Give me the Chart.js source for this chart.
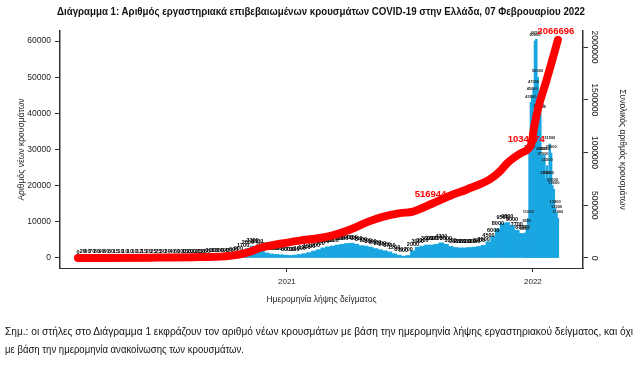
<!DOCTYPE html>
<html>
<head>
<meta charset="utf-8">
<script src="https://cdn.jsdelivr.net/npm/chart.js@4.4.1/dist/chart.umd.min.js"></script>
<style>
  html, body { margin: 0; padding: 0; background: #fff; }
  #wrap { position: relative; width: 641px; height: 365px; overflow: hidden; }
  #chart { position: absolute; left: 0; top: 0; }
  .txt { position: absolute; font-family: "Liberation Sans", sans-serif; color: #111; white-space: nowrap; transform-origin: 0 0; }
  #title { top: 5px; font-weight: bold; font-size: 11px; }
  #note1 { top: 325px; font-size: 10.5px; }
  #note2 { top: 343px; font-size: 10.5px; }
</style>
</head>
<body>
<div id="wrap">
  <canvas id="chart" width="641" height="365"></canvas>
  <div class="txt" id="title">Διάγραμμα 1: Αριθμός εργαστηριακά επιβεβαιωμένων κρουσμάτων COVID-19 στην Ελλάδα, 07 Φεβρουαρίου 2022</div>
  <div class="txt" id="note1">Σημ.: οι στήλες στο Διάγραμμα 1 εκφράζουν τον αριθμό νέων κρουσμάτων με βάση την ημερομηνία λήψης εργαστηριακού δείγματος, και όχι</div>
  <div class="txt" id="note2">με βάση την ημερομηνία ανακοίνωσης των κρουσμάτων.</div>
</div>
<script>
// day 0 = 26/02/2020, one reading per week
const weekCases = [
  0, 20, 60, 70, 80, 90, 60, 30, 15, 10,
  10, 10, 10, 12, 15, 20, 25, 25, 30, 30,
  40, 60, 100, 150, 200, 220, 250, 280, 300, 300,
  350, 400, 450, 600, 900, 1700, 2600, 3300, 2800, 2000,
  1400, 1100, 1000, 900, 800, 700, 800, 1000, 1200, 1500,
  1900, 2300, 2800, 3100, 3300, 3600, 3800, 4000, 4100, 3800,
  3400, 3300, 3000, 2600, 2300, 2000, 1700, 1200, 800, 500,
  700, 2000, 3000, 3300, 3600, 3600, 3800, 4200, 3800, 3200,
  2900, 2800, 2800, 2900, 3000, 3200, 3500, 4500, 6000, 8000,
  9500, 9800, 9000, 7700, 6800
];
const weekDays = weekCases.map((v, i) => i * 7);

// omicron wave, every second day
const lateDays = [662, 664, 666, 668, 670, 672, 674, 676, 678, 680, 682, 684, 686,
                  688, 690, 692, 694, 696, 698, 700, 702, 704, 706, 708, 710, 712];
const lateCases = [6500, 7000, 8500, 11000, 29000, 43000, 45000, 47000, 60000, 60500, 50000, 40500, 40000,
                   28500, 27000, 28500, 22000, 25500, 22000, 31500, 29000, 20000, 19000, 13800, 12500, 11000];

// cumulative total
const cumDays = [0, 107, 181, 225, 251, 270, 300, 329, 359, 378, 404, 429, 452, 478, 497, 526,
                 552, 577, 611, 626, 637, 656, 668, 673, 677, 684, 694, 703, 712];
const cumCases = [0, 3000, 9000, 20000, 50000, 95000, 135000, 165000, 190000, 215000, 270000, 340000,
                  390000, 425000, 440000, 516944, 590000, 650000, 745000, 820000, 900000, 990000,
                  1034774, 1090000, 1250000, 1450000, 1660000, 1860000, 2066696];
const cumLabelDays = [526, 668, 712];

const xTickDays = [310, 675];
const xTickLabels = ['2021', '2022'];
const leftTicks = [0, 10000, 20000, 30000, 40000, 50000, 60000];
const rightTicks = [0, 500000, 1000000, 1500000, 2000000];

const BLUE = '#1aa7e1';
const RED = '#ff0000';
const AXIS = '#333333';
const FONT = '"Liberation Sans", sans-serif';

function pts(xs, ys) {
  return xs.map((x, i) => ({x: x, y: ys[i]}));
}

// squeeze the html texts to the widths of the original
function fitText(id, left, width) {
  const el = document.getElementById(id);
  const w = el.getBoundingClientRect().width;
  el.style.left = left + 'px';
  el.style.transform = 'scaleX(' + (width / w) + ')';
}
fitText('title', 57, 528);
fitText('note1', 5, 628);
fitText('note2', 5, 239);

// small value labels on top of each bar
const barLabels = {
  id: 'barLabels',
  afterDatasetDraw(chart, args) {
    if (args.meta.type !== 'bar') return;
    const ctx = chart.ctx;
    const weekly = args.index === 1;
    ctx.save();
    ctx.font = (weekly ? 'bold 5.5px ' : 'bold 4px ') + FONT;
    ctx.fillStyle = weekly ? '#000' : '#222';
    ctx.textAlign = 'center';
    ctx.textBaseline = 'middle';
    args.meta.data.forEach((el, i) => {
      const v = chart.data.datasets[args.index].data[i].y;
      ctx.fillText(String(v), el.x, el.y - 6);
    });
    ctx.restore();
  }
};

// red labels of the cumulative line
const cumLabels = {
  id: 'cumLabels',
  beforeDatasetDraw(chart, args) {
    if (args.index !== 0) return;
    const ctx = chart.ctx;
    const xs = chart.scales.x, ys = chart.scales.y2;
    ctx.save();
    ctx.font = 'bold 9.5px ' + FONT;
    ctx.fillStyle = RED;
    ctx.textAlign = 'center';
    ctx.textBaseline = 'middle';
    cumLabelDays.forEach(d => {
      const v = cumCases[cumDays.indexOf(d)];
      ctx.fillText(String(v), xs.getPixelForValue(d) - 2, ys.getPixelForValue(v) - 9);
    });
    ctx.restore();
  }
};

new Chart(document.getElementById('chart'), {
  type: 'bar',
  data: {
    datasets: [
      {
        type: 'line',
        data: pts(cumDays, cumCases),
        yAxisID: 'y2',
        borderColor: RED,
        borderWidth: 8,
        borderCapStyle: 'round',
        borderJoinStyle: 'round',
        pointRadius: 0,
        cubicInterpolationMode: 'monotone',
        order: 0
      },
      {
        data: pts(weekDays, weekCases),
        yAxisID: 'y',
        backgroundColor: BLUE,
        barThickness: 5,
        stack: 'bars',
        order: 2
      },
      {
        data: pts(lateDays, lateCases),
        yAxisID: 'y',
        backgroundColor: BLUE,
        barThickness: 1.8,
        stack: 'bars',
        order: 1
      }
    ]
  },
  options: {
    responsive: false,
    animation: false,
    layout: {padding: {top: 31, left: 0, right: 0, bottom: 0}},
    plugins: {legend: {display: false}, tooltip: {enabled: false}},
    scales: {
      x: {
        type: 'linear',
        offset: false,
        min: -26.7,
        max: 749.3,
        afterBuildTicks: s => { s.ticks = xTickDays.map(v => ({value: v})); },
        afterFit: s => { s.height = 97; },
        ticks: {
          callback: v => xTickLabels[xTickDays.indexOf(v)],
          font: {family: FONT, size: 8},
          color: '#222',
          padding: 5,
          maxRotation: 0
        },
        grid: {offset: false, drawOnChartArea: false, drawTicks: true, tickLength: 4, color: AXIS},
        border: {display: true, color: AXIS, width: 1},
        title: {
          display: true,
          text: 'Ημερομηνία λήψης δείγματος',
          font: {family: FONT, size: 8.5},
          color: '#222',
          padding: {top: 0, bottom: 60}
        }
      },
      y: {
        position: 'left',
        min: -2765,
        max: 62765,
        stacked: false,
        afterBuildTicks: s => { s.ticks = leftTicks.map(v => ({value: v})); },
        afterFit: s => { s.width = 60; },
        ticks: {
          callback: v => String(v),
          font: {family: FONT, size: 8.5},
          color: '#222',
          padding: 4
        },
        grid: {drawOnChartArea: false, drawTicks: true, tickLength: 5, color: AXIS},
        border: {display: true, color: AXIS, width: 1.5},
        title: {
          display: true,
          text: 'Αριθμός νέων κρουσμάτων',
          font: {family: FONT, size: 8.5},
          color: '#222',
          padding: {top: 17, bottom: 0}
        }
      },
      y2: {
        position: 'right',
        min: -94787,
        max: 2151659,
        stacked: false,
        afterBuildTicks: s => { s.ticks = rightTicks.map(v => ({value: v})); },
        afterFit: s => { s.width = 58; },
        ticks: {
          callback: v => String(v),
          font: {family: FONT, size: 8.5},
          color: '#222',
          minRotation: -90,
          maxRotation: -90,
          crossAlign: 'center',
          padding: -10
        },
        grid: {drawOnChartArea: false, drawTicks: true, tickLength: 5, color: AXIS},
        border: {display: true, color: AXIS, width: 1.5},
        title: {
          display: true,
          text: 'Συνολικός αριθμός κρουσμάτων',
          font: {family: FONT, size: 8.5},
          color: '#222',
          padding: {top: 14, bottom: 0}
        }
      }
    }
  },
  plugins: [barLabels, cumLabels]
});
</script>
</body>
</html>
